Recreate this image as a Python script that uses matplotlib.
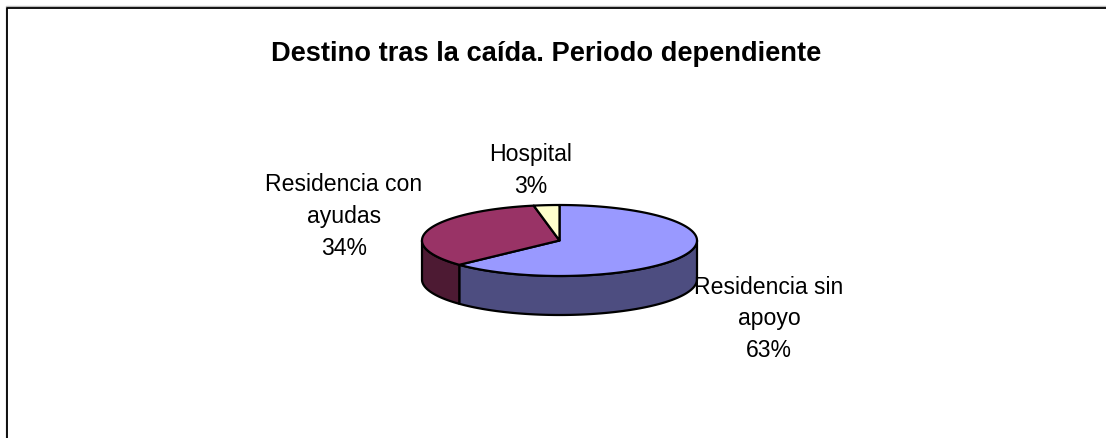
import numpy as np
import matplotlib
matplotlib.use('Agg')
import matplotlib.pyplot as plt

labels = ['Residencia sin\napoyo\n63%', 'Residencia con\nayudas\n34%', 'Hospital\n3%']
values = [63, 34, 3]
colors = ['#9999FF', '#993366', '#FFFFCC']
side_colors = ['#4D4D80', '#4D1A33', '#808066']
title = 'Destino tras la caída. Periodo dependiente'

W, H = 1106, 439
plt.rcParams['font.family'] = ['Liberation Sans', 'DejaVu Sans']
fig = plt.figure(figsize=(W/100, H/100), dpi=100)

# whole figure in pixels, y down
ax = fig.add_axes([0, 0, 1, 1])
ax.set_xlim(0, W)
ax.set_ylim(H, 0)
ax.axis('off')

# chart frame, a grey line outside the black one, open on the right and bottom
ax.plot([6, 6, W], [H, 7.2, 7.2], color='#BBBBBB', lw=1.0, solid_capstyle='butt')
ax.plot([7, 7, W], [H, 8.5, 8.5], color='black', lw=1.3, solid_capstyle='butt')

cx, cy, rx, ry, depth = 559.5, 241.5, 137.5, 35.5, 39

# slice angles go clockwise from the top
edges = 90 - 360*np.cumsum([0] + values)/sum(values)

# side wall first, only the front half of the ellipse shows
for i in range(len(values)):
    a = np.linspace(edges[i], edges[i+1], 200)
    a = a[np.sin(np.radians(a)) <= 0]
    if len(a) == 0:
        continue
    x = cx + rx*np.cos(np.radians(a))
    y = cy - ry*np.sin(np.radians(a))
    ax.fill(np.r_[x, x[::-1]], np.r_[y, y[::-1]+depth], fc=side_colors[i], ec='black', lw=1.6, joinstyle='round')

# top of the pie
for i in range(len(values)):
    a = np.linspace(edges[i], edges[i+1], 200)
    x = np.r_[cx, cx + rx*np.cos(np.radians(a))]
    y = np.r_[cy, cy - ry*np.sin(np.radians(a))]
    ax.fill(x, y, fc=colors[i], ec='black', lw=1.6, joinstyle='round')

ax.text(546, 54, title, ha='center', va='center', fontsize=19.6, fontweight='bold', color='black')

label_pos = [(769, 319), (344, 216.5), (531, 170.5)]
for lab, (lx, ly) in zip(labels, label_pos):
    ax.text(lx, ly, lab, ha='center', va='center', fontsize=16.6, color='black', linespacing=1.48)

fig.savefig('out.png', dpi=100, facecolor='white')
